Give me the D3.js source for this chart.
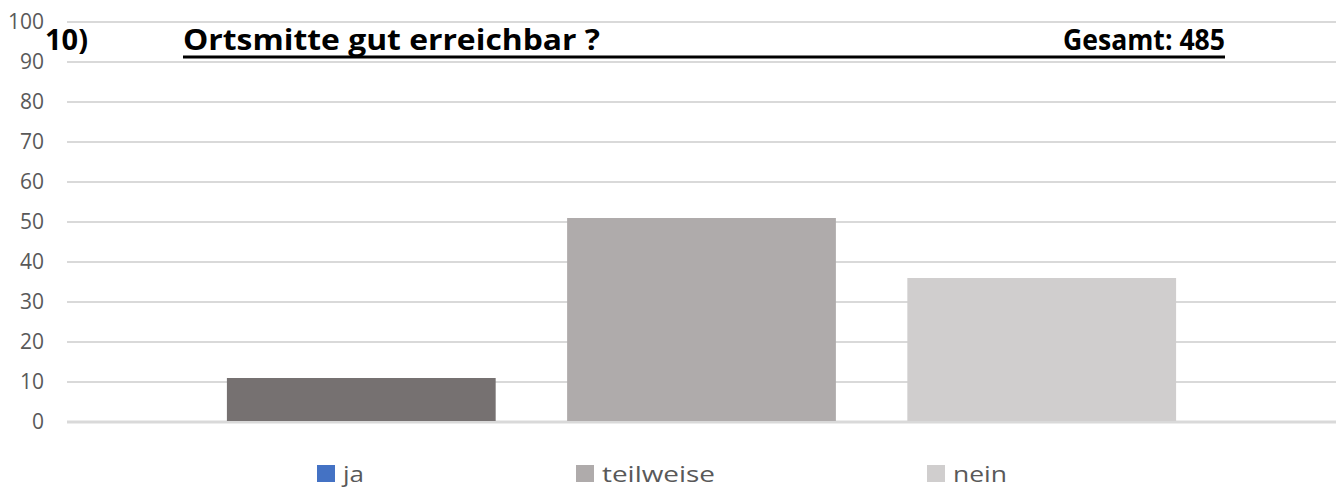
<!DOCTYPE html>
<html>
<head>
<meta charset="utf-8">
<script src="https://cdn.jsdelivr.net/npm/d3@7"></script>
<style>
  body { margin: 0; background: #fff; }
  text { font-family: 'Open Sans', sans-serif; }
</style>
</head>
<body>
<div id="chart"></div>
<script>
const categories = ['ja', 'teilweise', 'nein']
const values = [11, 51, 36]
const barColors = ['#767171', '#AFABAB', '#D0CECE']
const legendColors = ['#4472C4', '#AFABAB', '#D0CECE']
const yTicks = [0, 10, 20, 30, 40, 50, 60, 70, 80, 90, 100]

const margin = { top: 22, left: 67, right: 5, bottom: 66 }
const width = 1341 - margin.left - margin.right
const height = 488 - margin.top - margin.bottom

const svg = d3
  .select('#chart')
  .append('svg')
  .attr('width', 1341)
  .attr('height', 488)

const g = svg
  .append('g')
  .attr('transform', 'translate(' + margin.left + ',' + margin.top + ')')

const xPositionScale = d3
  .scaleBand()
  .domain(categories)
  .range([0, width])
  .paddingInner(0.21)
  .paddingOuter(0.47)

const yPositionScale = d3
  .scaleLinear()
  .domain([0, 100])
  .range([height, 0])

// gridlines
g.selectAll('.grid')
  .data(yTicks)
  .enter()
  .append('line')
  .attr('class', 'grid')
  .attr('x1', 0)
  .attr('x2', width)
  .attr('y1', d => yPositionScale(d))
  .attr('y2', d => yPositionScale(d))
  .attr('stroke', '#d9d9d9')
  .attr('stroke-width', d => (d === 0 ? 3 : 2))

const yAxis = d3.axisLeft(yPositionScale).tickValues(yTicks).tickSize(0).tickPadding(23)
g.append('g')
  .attr('class', 'axis y-axis')
  .call(yAxis)
g.selectAll('.y-axis path').remove()
g.selectAll('.y-axis text')
  .style('font-size', '21px')
  .attr('fill', '#595959')
  .attr('font-family', "'Open Sans', sans-serif")

g.selectAll('rect.bar')
  .data(categories)
  .enter()
  .append('rect')
  .attr('class', 'bar')
  .attr('x', d => xPositionScale(d))
  .attr('width', xPositionScale.bandwidth())
  .attr('y', (d, i) => yPositionScale(values[i]))
  .attr('height', (d, i) => yPositionScale(0) - yPositionScale(values[i]) - 1)
  .attr('fill', (d, i) => barColors[i])

// title (the source chart is stretched sideways, so text is fitted to width)
function titleText(str, x, len) {
  svg.append('text')
    .attr('x', x)
    .attr('y', 50)
    .attr('textLength', len)
    .attr('lengthAdjust', 'spacingAndGlyphs')
    .text(str)
    .style('font-size', '29px')
    .style('font-weight', 'bold')
    .attr('fill', '#000')
}
titleText('10)', 45, 43)
titleText('Ortsmitte gut erreichbar ?', 183, 417)
titleText('Gesamt: 485', 1063, 162)

svg.append('line')
  .attr('x1', 183)
  .attr('x2', 1225)
  .attr('y1', 57)
  .attr('y2', 57)
  .attr('stroke', '#000')
  .attr('stroke-width', 3)

// legend
const legendX = [317, 576, 927]
const legendLen = [21, 113, 54]
const legend = svg
  .selectAll('.legend')
  .data(categories)
  .enter()
  .append('g')
  .attr('class', 'legend')
  .attr('transform', (d, i) => 'translate(' + legendX[i] + ',465)')

legend.append('rect')
  .attr('width', 18)
  .attr('height', 17)
  .attr('fill', (d, i) => legendColors[i])

legend.append('text')
  .attr('x', 26)
  .attr('y', 17)
  .attr('textLength', (d, i) => legendLen[i])
  .attr('lengthAdjust', 'spacingAndGlyphs')
  .text(d => d)
  .style('font-size', '22px')
  .attr('fill', '#595959')
</script>
</body>
</html>
